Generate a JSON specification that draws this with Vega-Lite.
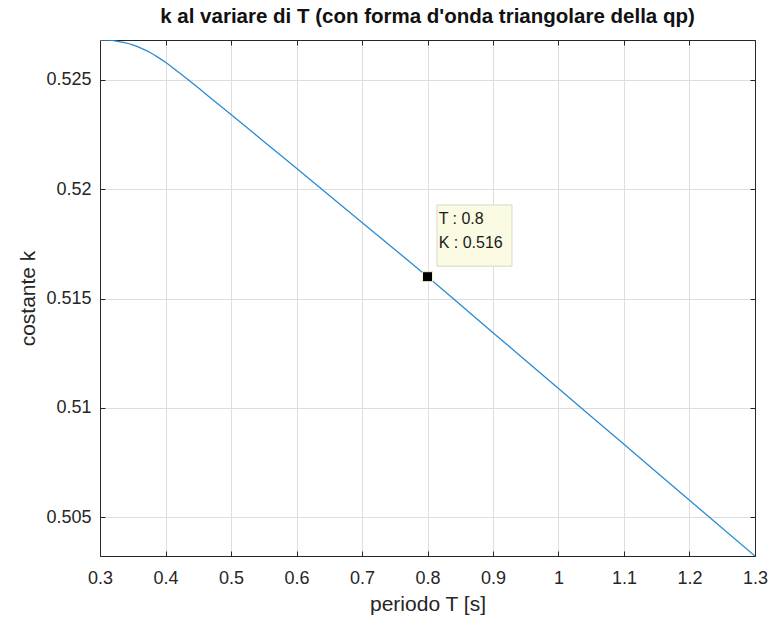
{
  "$schema": "https://vega.github.io/schema/vega-lite/v6.json",
  "width": 655,
  "height": 516,
  "autosize": {"type": "none"},
  "padding": {"left": 100, "top": 40, "right": 13, "bottom": 67},
  "background": "white",
  "config": {
    "font": "Liberation Sans",
    "view": {"stroke": null},
    "axis": {
      "domainColor": "#262626",
      "tickColor": "#262626",
      "labelColor": "#262626",
      "titleColor": "#262626",
      "labelFont": "Liberation Sans",
      "titleFont": "Liberation Sans",
      "labelFontSize": 18,
      "titleFontSize": 21,
      "titleFontWeight": "normal",
      "gridColor": "#dedede",
      "gridWidth": 1,
      "domainWidth": 1
    }
  },
  "title": {
    "text": "k al variare di T (con forma d'onda triangolare della qp)",
    "fontSize": 20.5,
    "fontWeight": "bold",
    "font": "Liberation Sans",
    "color": "#111111",
    "anchor": "middle",
    "offset": 12
  },
  "datasets": {
    "curve": [
      {"T": 0.3, "k": 0.52683},
      {"T": 0.3125, "k": 0.52682},
      {"T": 0.325, "k": 0.52678},
      {"T": 0.3375, "k": 0.52671},
      {"T": 0.35, "k": 0.52661},
      {"T": 0.3625, "k": 0.52646},
      {"T": 0.375, "k": 0.52628},
      {"T": 0.3875, "k": 0.52606},
      {"T": 0.4, "k": 0.52581},
      {"T": 0.4125, "k": 0.52553},
      {"T": 0.425, "k": 0.52524},
      {"T": 0.4375, "k": 0.52494},
      {"T": 0.45, "k": 0.52464},
      {"T": 0.475, "k": 0.52403},
      {"T": 0.5, "k": 0.52342},
      {"T": 0.55, "k": 0.52219},
      {"T": 0.6, "k": 0.52096},
      {"T": 0.7, "k": 0.51848},
      {"T": 0.8, "k": 0.516},
      {"T": 0.9, "k": 0.51344},
      {"T": 1.0, "k": 0.51088},
      {"T": 1.1, "k": 0.50833},
      {"T": 1.2, "k": 0.50577},
      {"T": 1.3, "k": 0.50322}
    ],
    "marker": [{"T": 0.8, "k": 0.516}],
    "box": [{"x1": 0.8145, "x2": 0.929, "y1": 0.51928, "y2": 0.51648}],
    "labels": [
      {"T": 0.817, "k": 0.51862, "label": "T : 0.8"},
      {"T": 0.817, "k": 0.51752, "label": "K : 0.516"}
    ]
  },
  "resolve": {"axis": {"x": "independent", "y": "independent"}},
  "layer": [
    {
      "data": {"name": "curve"},
      "mark": {"type": "line", "color": "#2a8bd2", "strokeWidth": 1.3, "clip": true, "interpolate": "monotone"},
      "encoding": {
        "x": {
          "field": "T", "type": "quantitative",
          "scale": {"domain": [0.3, 1.3], "nice": false, "zero": false},
          "axis": {
            "orient": "bottom",
            "values": [0.3, 0.4, 0.5, 0.6, 0.7, 0.8, 0.9, 1, 1.1, 1.2, 1.3],
            "labelExpr": "datum.value",
            "title": "periodo T [s]",
            "grid": true,
            "tickSize": -5,
            "labelPadding": 18,
            "titlePadding": 6,
            "labelFlush": false
          }
        },
        "y": {
          "field": "k", "type": "quantitative",
          "scale": {"domain": [0.50322, 0.52683], "nice": false, "zero": false},
          "axis": {
            "orient": "left",
            "values": [0.505, 0.51, 0.515, 0.52, 0.525],
            "labelExpr": "datum.value",
            "title": "costante k",
            "grid": true,
            "tickSize": -5,
            "labelPadding": 14,
            "titlePadding": 7,
            "labelFlush": false
          }
        }
      }
    },
    {
      "data": {"name": "box"},
      "mark": {"type": "rect", "fill": "#fbfbe3", "stroke": "#d8d8c8", "strokeWidth": 1},
      "encoding": {
        "x": {"field": "x1", "type": "quantitative", "axis": null},
        "x2": {"field": "x2"},
        "y": {"field": "y1", "type": "quantitative", "axis": null},
        "y2": {"field": "y2"}
      }
    },
    {
      "data": {"name": "labels"},
      "mark": {"type": "text", "align": "left", "baseline": "middle", "fontSize": 16, "font": "Liberation Sans", "color": "#1a1a1a"},
      "encoding": {
        "x": {"field": "T", "type": "quantitative", "axis": null},
        "y": {"field": "k", "type": "quantitative", "axis": null},
        "text": {"field": "label"}
      }
    },
    {
      "data": {"name": "marker"},
      "mark": {"type": "point", "shape": "square", "filled": true, "color": "black", "size": 100, "stroke": "#f5f0c8", "strokeWidth": 1, "opacity": 1},
      "encoding": {
        "x": {
          "field": "T", "type": "quantitative",
          "axis": {"orient": "top", "values": [0.3, 0.4, 0.5, 0.6, 0.7, 0.8, 0.9, 1, 1.1, 1.2, 1.3], "labels": false, "title": null, "grid": false, "tickSize": -5}
        },
        "y": {
          "field": "k", "type": "quantitative",
          "axis": {"orient": "right", "values": [0.505, 0.51, 0.515, 0.52, 0.525], "labels": false, "title": null, "grid": false, "tickSize": -5}
        }
      }
    }
  ]
}
